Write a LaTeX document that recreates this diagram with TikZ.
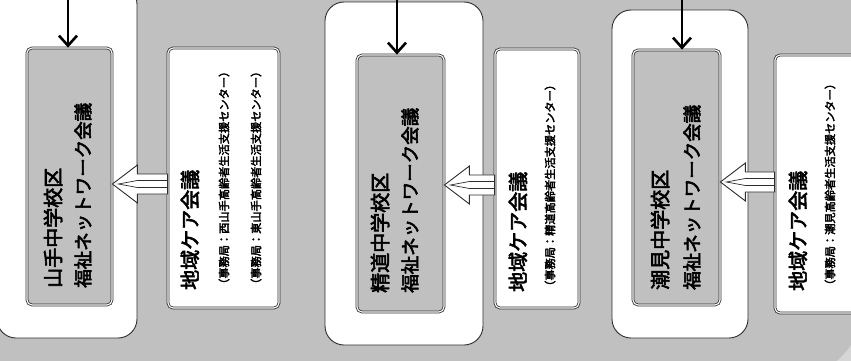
\documentclass[tikz,border=0pt]{standalone}
\usepackage{fontspec}
\newfontfamily\jpfont[FakeBold=3]{Noto Sans CJK JP}
\usetikzlibrary{arrows.meta,calc}

\definecolor{fond}{RGB}{192,192,192}
\definecolor{coin}{RGB}{214,214,214}
\definecolor{trait}{RGB}{45,45,45}

% fleche creuse rayee : #1 pointe, #2 queue
\newcommand{\striparrow}[2]{%
  \draw[trait, line width=0.9pt, fill=white] (#1) -- ($(#1)+(25,-19)$) -- ($(#1)+(25,-10)$)
    -- ($(#2)+(0,-10)$) -- ($(#2)+(0,10)$) -- ($(#1)+(25,10)$) -- ($(#1)+(25,19)$) -- cycle;
  \draw[trait, line width=0.7pt] ($(#2)+(0,-3.5)$) -- ($(#1)+(25,-3.5)$) -- ($(#1)+(6,0)$)
    -- ($(#1)+(25,3.5)$) -- ($(#2)+(0,3.5)$);
}

\begin{document}
\begin{tikzpicture}[x=1pt, y=-1pt,
    zone/.style={draw=trait, line width=0.9pt, fill=white, rounded corners=19pt, inner sep=0pt},
    netbox/.style={draw=trait, double=white, double distance=1.1pt, line width=0.8pt,
      fill=fond, rounded corners=5pt, inner sep=0pt},
    carebox/.style={draw=trait, double=white, double distance=1.1pt, line width=0.8pt,
      fill=white, rounded corners=5pt, inner sep=0pt},
    txt/.style={rotate=90, anchor=west, inner sep=0pt},
    bigtxt/.style={txt, font=\jpfont\fontsize{20}{24}\selectfont},
    midtxt/.style={txt, font=\jpfont\fontsize{18.5}{22}\selectfont},
    smalltxt/.style={txt, font=\jpfont\fontsize{11.2}{13}\selectfont},
    down/.style={line width=2.6pt, -{Straight Barb[length=10pt,width=18pt]}}]
  \useasboundingbox (0,0) rectangle (851,361);
  \clip (0,0) rectangle (851,361);

  % fond
  \fill[coin] (0,0) rectangle (851,361);
  \fill[fond, rounded corners=70pt] (-200,-200) rectangle (862,377);

  % zone 1 : Yamate
    \node[zone, minimum width=140pt, minimum height=353pt] at (67,161.5) (zone1) {};
    \node[netbox, minimum width=85pt, minimum height=257pt] at (69.5,176.5) (net1) {};
    \node[carebox, minimum width=111pt, minimum height=260pt] at (223.5,178) (care1) {};
    \node[bigtxt] at (53,288) (t1a) {山手中学校区};
    \node[midtxt] at (83,288) (t1b) {福祉ネットワーク会議};
    \node[bigtxt] at (190,290) (c1a) {地域ケア会議};
    \node[smalltxt] at (224,290) (c1b) {（事務局：西山手高齢者生活支援センター）};
    \node[smalltxt] at (256,290) (c1c) {（事務局：東山手高齢者生活支援センター）};
    \coordinate (top1) at (68,-5);
    \draw[down] (top1) -- (top1 |- net1.north);
    \coordinate (tip1) at (net1.east |- 0,184);
    \coordinate (tail1) at (tip1 -| care1.west);
    \striparrow{tip1}{tail1}

  % zone 2 : Seido
    \node[zone, minimum width=158pt, minimum height=343pt] at (404,173.5) (zone2) {};
    \node[netbox, minimum width=87pt, minimum height=257pt] at (400.5,183.5) (net2) {};
    \node[carebox, minimum width=84pt, minimum height=259pt] at (537,178.5) (care2) {};
    \node[bigtxt] at (380,293) (t2a) {精道中学校区};
    \node[midtxt] at (410,293) (t2b) {福祉ネットワーク会議};
    \node[bigtxt] at (518,292) (c2a) {地域ケア会議};
    \node[smalltxt] at (550,292) (c2b) {（事務局：精道高齢者生活支援センター）};
    \coordinate (top2) at (397,-5);
    \draw[down] (top2) -- (top2 |- net2.north);
    \coordinate (tip2) at (net2.east |- 0,185);
    \coordinate (tail2) at (tip2 -| care2.west);
    \striparrow{tip2}{tail2}

  % zone 3 : Shiomi
    \node[zone, minimum width=136pt, minimum height=328pt] at (680,174) (zone3) {};
    \node[netbox, minimum width=87pt, minimum height=255pt] at (676.5,177.5) (net3) {};
    \node[carebox, minimum width=90pt, minimum height=258pt] at (820,184) (care3) {};
    \node[bigtxt] at (660,290) (t3a) {潮見中学校区};
    \node[midtxt] at (692,290) (t3b) {福祉ネットワーク会議};
    \node[bigtxt] at (798,291) (c3a) {地域ケア会議};
    \node[smalltxt] at (830,291) (c3b) {（事務局：潮見高齢者生活支援センター）};
    \coordinate (top3) at (682,-5);
    \draw[down] (top3) -- (top3 |- net3.north);
    \coordinate (tip3) at (net3.east |- 0,182);
    \coordinate (tail3) at (tip3 -| care3.west);
    \striparrow{tip3}{tail3}
\end{tikzpicture}
\end{document}
